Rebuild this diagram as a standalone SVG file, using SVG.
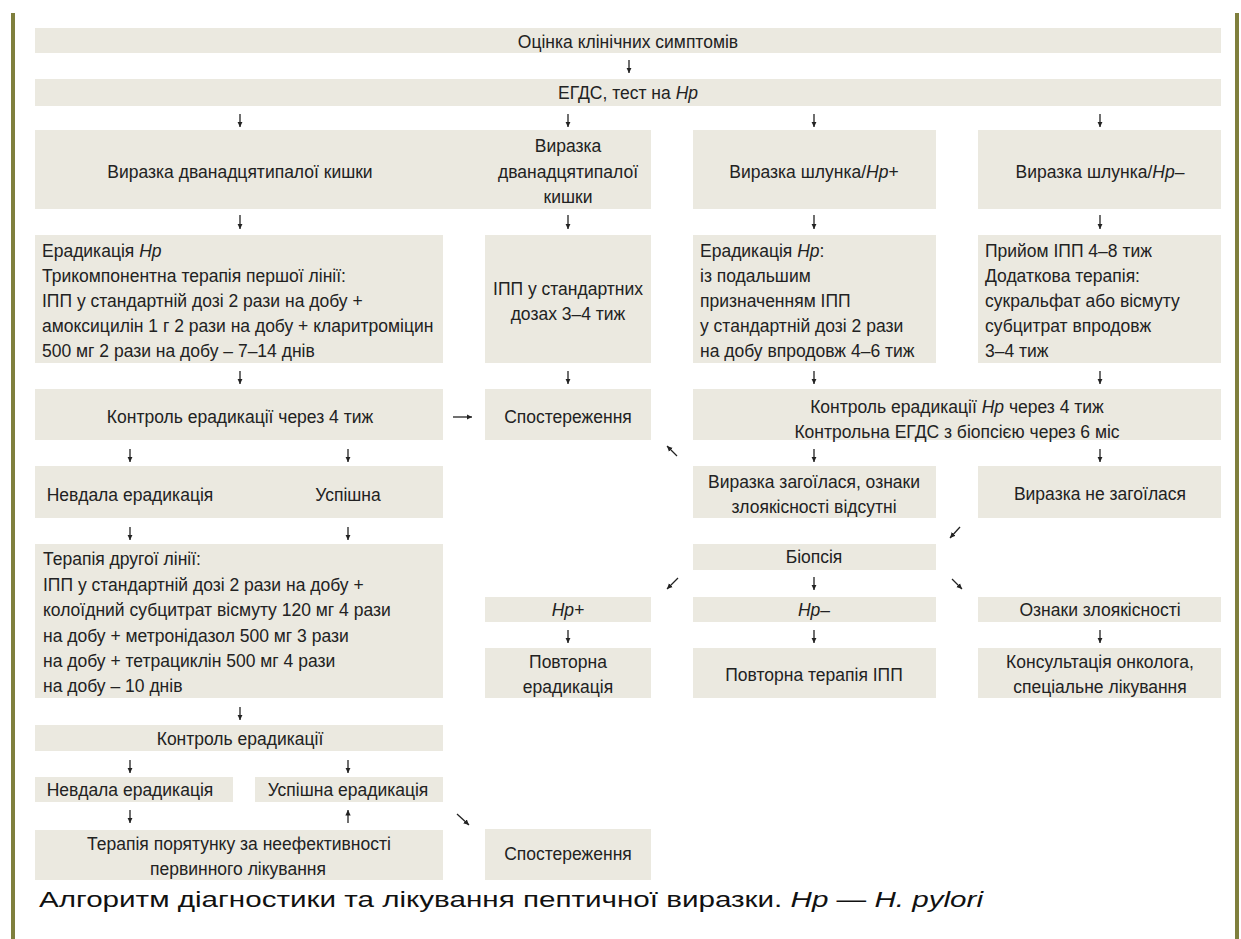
<svg xmlns="http://www.w3.org/2000/svg" width="1241" height="939" viewBox="0 0 1241 939">
  <style>
    .box { fill: #ebe9e0; }
    .t { font-family: "Liberation Sans", Arial, sans-serif; font-size: 17.5px; fill: #222; }
    .c { text-anchor: middle; }
    .i { font-style: italic; }
    .cap { font-family: "Liberation Sans", Arial, sans-serif; font-size: 22px; fill: #111; }
    .arr { stroke: #222; stroke-width: 1.3; fill: none; marker-end: url(#head); }
  </style>
  <defs>
    <marker id="head" markerUnits="userSpaceOnUse" markerWidth="6" markerHeight="6" refX="5.5" refY="3" orient="auto">
      <path d="M0,0.3 L5.5,3 L0,5.7 z" fill="#222"/>
    </marker>
  </defs>

  <rect x="0" y="0" width="1241" height="939" fill="#fff"/>
  <!-- page rules -->
  <rect x="11" y="13" width="4" height="926" fill="#7f7f3d"/>
  <rect x="1235" y="13" width="4" height="926" fill="#7f7f3d"/>

  <!-- column: top -->
  <g id="n-symptoms">
    <rect class="box" x="35" y="28" width="1186" height="25"/>
    <text class="t c" x="628" y="48">Оцінка клінічних симптомів</text>
  </g>
  <g id="n-egds">
    <rect class="box" x="35" y="79" width="1186" height="27"/>
    <text class="t c" x="628" y="99">ЕГДС, тест на <tspan class="i">Hp</tspan></text>
  </g>

  <!-- row 3 -->
  <g id="n-duod-a">
    <rect class="box" x="35" y="130" width="450" height="79"/>
    <text class="t c" x="240" y="178">Виразка дванадцятипалої кишки</text>
  </g>
  <g id="n-duod-b">
    <rect class="box" x="485" y="130" width="166" height="79"/>
    <text class="t c" x="568" y="152">Виразка</text>
    <text class="t c" x="568" y="178">дванадцятипалої</text>
    <text class="t c" x="568" y="203">кишки</text>
  </g>
  <g id="n-gastric-pos">
    <rect class="box" x="693" y="130" width="243" height="79"/>
    <text class="t c" x="814" y="178">Виразка шлунка/<tspan class="i">Hp</tspan>+</text>
  </g>
  <g id="n-gastric-neg">
    <rect class="box" x="978" y="130" width="243" height="79"/>
    <text class="t c" x="1100" y="178">Виразка шлунка/<tspan class="i">Hp</tspan>–</text>
  </g>

  <!-- row 4 -->
  <g id="n-first-line">
    <rect class="box" x="35" y="235" width="408" height="128"/>
    <text class="t" x="42" y="257">Ерадикація <tspan class="i">Hp</tspan></text>
    <text class="t" x="42" y="282">Трикомпонентна терапія першої лінії:</text>
    <text class="t" x="42" y="307">ІПП у стандартній дозі 2 рази на добу +</text>
    <text class="t" x="42" y="332">амоксицилін 1 г 2 рази на добу + кларитроміцин</text>
    <text class="t" x="42" y="357">500 мг 2 рази на добу – 7–14 днів</text>
  </g>
  <g id="n-ppi-std">
    <rect class="box" x="485" y="235" width="166" height="128"/>
    <text class="t c" x="568" y="295">ІПП у стандартних</text>
    <text class="t c" x="568" y="320">дозах 3–4 тиж</text>
  </g>
  <g id="n-erad-ppi">
    <rect class="box" x="693" y="235" width="243" height="128"/>
    <text class="t" x="700" y="257">Ерадикація <tspan class="i">Hp</tspan>:</text>
    <text class="t" x="700" y="282">із подальшим</text>
    <text class="t" x="700" y="307">призначенням ІПП</text>
    <text class="t" x="700" y="332">у стандартній дозі 2 рази</text>
    <text class="t" x="700" y="357">на добу впродовж 4–6 тиж</text>
  </g>
  <g id="n-ppi-extra">
    <rect class="box" x="978" y="235" width="243" height="128"/>
    <text class="t" x="985" y="257">Прийом ІПП 4–8 тиж</text>
    <text class="t" x="985" y="282">Додаткова терапія:</text>
    <text class="t" x="985" y="307">сукральфат або вісмуту</text>
    <text class="t" x="985" y="332">субцитрат впродовж</text>
    <text class="t" x="985" y="357">3–4 тиж</text>
  </g>

  <!-- row 5 -->
  <g id="n-control-4w">
    <rect class="box" x="35" y="389" width="408" height="51"/>
    <text class="t c" x="240" y="423">Контроль ерадикації через 4 тиж</text>
  </g>
  <g id="n-observe-1">
    <rect class="box" x="485" y="389" width="166" height="51"/>
    <text class="t c" x="568" y="423">Спостереження</text>
  </g>
  <g id="n-control-egds">
    <rect class="box" x="693" y="389" width="528" height="51"/>
    <text class="t c" x="957" y="413">Контроль ерадикації <tspan class="i">Hp</tspan> через 4 тиж</text>
    <text class="t c" x="957" y="438">Контрольна ЕГДС з біопсією через 6 міс</text>
  </g>

  <!-- row 6 -->
  <g id="n-outcome-1">
    <rect class="box" x="35" y="466" width="408" height="52"/>
    <text class="t c" x="130" y="501">Невдала ерадикація</text>
    <text class="t c" x="348" y="501">Успішна</text>
  </g>
  <g id="n-healed">
    <rect class="box" x="693" y="466" width="243" height="52"/>
    <text class="t c" x="814" y="488">Виразка загоїлася, ознаки</text>
    <text class="t c" x="814" y="513">злоякісності відсутні</text>
  </g>
  <g id="n-not-healed">
    <rect class="box" x="978" y="466" width="243" height="52"/>
    <text class="t c" x="1100" y="500">Виразка не загоїлася</text>
  </g>

  <!-- row 7 -->
  <g id="n-second-line">
    <rect class="box" x="35" y="544" width="408" height="154"/>
    <text class="t" x="43" y="565">Терапія другої лінії:</text>
    <text class="t" x="43" y="590.5">ІПП у стандартній дозі 2 рази на добу +</text>
    <text class="t" x="43" y="616">колоїдний субцитрат вісмуту 120 мг 4 рази</text>
    <text class="t" x="43" y="641.5">на добу + метронідазол 500 мг 3 рази</text>
    <text class="t" x="43" y="667">на добу + тетрациклін 500 мг 4 рази</text>
    <text class="t" x="43" y="692">на добу – 10 днів</text>
  </g>
  <g id="n-biopsy">
    <rect class="box" x="693" y="544" width="243" height="26"/>
    <text class="t c" x="814" y="563">Біопсія</text>
  </g>

  <!-- row 8 -->
  <g id="n-hp-pos">
    <rect class="box" x="485" y="597" width="166" height="25"/>
    <text class="t c i" x="568" y="616">Hp+</text>
  </g>
  <g id="n-hp-neg">
    <rect class="box" x="693" y="597" width="243" height="25"/>
    <text class="t c" x="814" y="616"><tspan class="i">Hp</tspan>–</text>
  </g>
  <g id="n-malignant">
    <rect class="box" x="978" y="597" width="243" height="25"/>
    <text class="t c" x="1100" y="616">Ознаки злоякісності</text>
  </g>

  <!-- row 9 -->
  <g id="n-repeat-erad">
    <rect class="box" x="485" y="648" width="166" height="50"/>
    <text class="t c" x="568" y="668">Повторна</text>
    <text class="t c" x="568" y="693">ерадикація</text>
  </g>
  <g id="n-repeat-ppi">
    <rect class="box" x="693" y="648" width="243" height="50"/>
    <text class="t c" x="814" y="681">Повторна терапія ІПП</text>
  </g>
  <g id="n-oncology">
    <rect class="box" x="978" y="648" width="243" height="50"/>
    <text class="t c" x="1100" y="668">Консультація онколога,</text>
    <text class="t c" x="1100" y="693">спеціальне лікування</text>
  </g>

  <!-- lower left branch -->
  <g id="n-control-2">
    <rect class="box" x="35" y="725" width="408" height="26"/>
    <text class="t c" x="240" y="745">Контроль ерадикації</text>
  </g>
  <g id="n-fail-2">
    <rect class="box" x="35" y="777" width="198" height="25"/>
    <text class="t c" x="130" y="796">Невдала ерадикація</text>
  </g>
  <g id="n-success-2">
    <rect class="box" x="255" y="777" width="188" height="25"/>
    <text class="t c" x="348" y="796">Успішна ерадикація</text>
  </g>
  <g id="n-rescue">
    <rect class="box" x="35" y="830" width="408" height="50"/>
    <text class="t c" x="239" y="850">Терапія порятунку за неефективності</text>
    <text class="t c" x="238" y="875">первинного лікування</text>
  </g>
  <g id="n-observe-2">
    <rect class="box" x="485" y="829" width="166" height="51"/>
    <text class="t c" x="568" y="860">Спостереження</text>
  </g>

  <!-- connectors -->
  <g id="connectors">
    <path class="arr" d="M629,60 V73"/>
    <path class="arr" d="M240,114 V127"/>
    <path class="arr" d="M568,114 V127"/>
    <path class="arr" d="M814,114 V127"/>
    <path class="arr" d="M1100,114 V127"/>
    <path class="arr" d="M240,215 V229"/>
    <path class="arr" d="M568,215 V229"/>
    <path class="arr" d="M814,215 V229"/>
    <path class="arr" d="M1100,215 V229"/>
    <path class="arr" d="M240,371 V384"/>
    <path class="arr" d="M568,371 V384"/>
    <path class="arr" d="M814,371 V384"/>
    <path class="arr" d="M1100,371 V384"/>
    <path class="arr" d="M453,417 H472"/>
    <path class="arr" d="M677,456 L667,446"/>
    <path class="arr" d="M130,449 V462"/>
    <path class="arr" d="M348,449 V462"/>
    <path class="arr" d="M814,449 V462"/>
    <path class="arr" d="M1100,449 V462"/>
    <path class="arr" d="M960,527 L950,538"/>
    <path class="arr" d="M130,527 V540"/>
    <path class="arr" d="M348,527 V540"/>
    <path class="arr" d="M678,578 L667,589"/>
    <path class="arr" d="M814,577 V590"/>
    <path class="arr" d="M952,579 L962,589"/>
    <path class="arr" d="M568,630 V643"/>
    <path class="arr" d="M814,630 V643"/>
    <path class="arr" d="M1100,630 V643"/>
    <path class="arr" d="M240,707 V720"/>
    <path class="arr" d="M130,760 V773"/>
    <path class="arr" d="M348,760 V773"/>
    <path class="arr" d="M130,810 V823"/>
    <path class="arr" d="M348,823 V810"/>
    <path class="arr" d="M457,814 L469,825"/>
  </g>

  <text class="cap" x="39" y="907" textLength="944" lengthAdjust="spacingAndGlyphs">Алгоритм діагностики та лікування пептичної виразки. <tspan font-style="italic">Hp</tspan> — <tspan font-style="italic">H. pylori</tspan></text>
</svg>
